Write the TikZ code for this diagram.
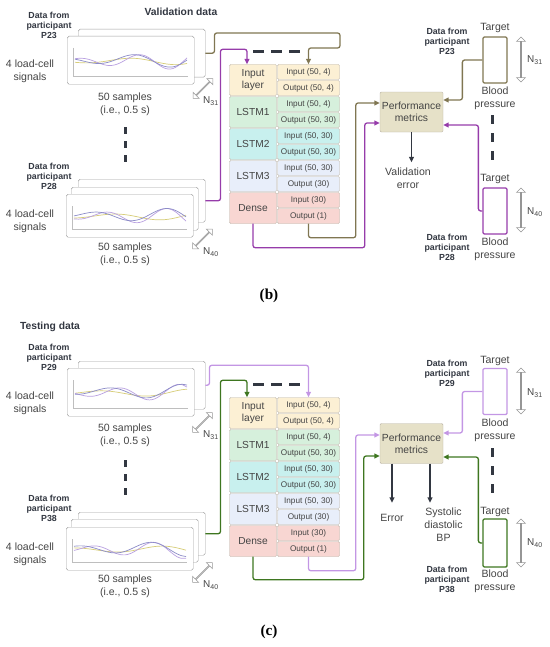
\documentclass[tikz,border=0pt]{standalone}
\usepackage{fontspec}
\setmainfont{Liberation Sans}
\newfontfamily\panelfont{Liberation Serif}
\usepackage{tikz}
\usetikzlibrary{shapes.arrows,arrows.meta,calc}

\definecolor{olivec}{RGB}{128,118,82}
\definecolor{purplec}{RGB}{150,60,170}
\definecolor{lavenderc}{RGB}{195,150,228}
\definecolor{greenc}{RGB}{62,118,32}
\definecolor{inkc}{RGB}{68,68,68}
\definecolor{darkc}{RGB}{50,55,65}
\definecolor{edgec}{RGB}{185,178,165}
\definecolor{cardc}{RGB}{160,160,160}
\definecolor{twoc}{RGB}{150,150,150}
\definecolor{axisc}{RGB}{190,190,190}
\definecolor{inputc}{RGB}{252,240,212}
\definecolor{lstmac}{RGB}{214,240,220}
\definecolor{lstmbc}{RGB}{200,240,238}
\definecolor{lstmcc}{RGB}{232,238,250}
\definecolor{densec}{RGB}{248,214,210}
\definecolor{perfc}{RGB}{230,225,200}
\definecolor{sigyc}{RGB}{215,205,120}
\definecolor{sigpc}{RGB}{185,160,225}
\definecolor{sigbc}{RGB}{140,140,200}

\def\pxu{0.3mm}

\tikzset{
  txt/.style={text=inkc, font=\fontsize{9}{11}\selectfont, align=center, inner sep=0pt},
  who/.style={text=darkc, font=\bfseries\fontsize{7.5}{8.6}\selectfont, align=center, inner sep=0pt},
  headtext/.style={text=darkc, font=\bfseries\fontsize{8.8}{10}\selectfont, inner sep=0pt},
  card/.style={draw=cardc, fill=white, rounded corners=1.5pt, minimum width=127*\pxu, minimum height=48*\pxu, anchor=north west, inner sep=0pt},
  layerbox/.style={draw=edgec, rounded corners=1pt, minimum width=47*\pxu, minimum height=31*\pxu, inner sep=0pt, align=center, text=inkc, font=\fontsize{8.7}{10.5}\selectfont},
  subcell/.style={layerbox, minimum width=62*\pxu, minimum height=15*\pxu, font=\fontsize{7}{8}\selectfont},
  metricbox/.style={draw=edgec, fill=perfc, rounded corners=1pt, minimum width=63*\pxu, minimum height=40*\pxu, align=center, text=inkc, font=\fontsize{8.8}{10.5}\selectfont, inner sep=0pt},
  targetbox/.style={line width=1.1pt, rounded corners=1pt, minimum width=24*\pxu, minimum height=46*\pxu, inner sep=0pt},
  flow/.style={line width=1.1pt, rounded corners=2pt, -{Triangle[length=4.5pt,width=4pt]}},
  outarrow/.style={darkc, line width=1.1pt, -{Triangle[length=4.5pt,width=4pt]}},
  gapline/.style={darkc, line width=0.9mm, dash pattern=on 2mm off 2.2mm},
  bothways/.style={double arrow, draw=twoc, fill=white, line width=0.5pt, minimum height=#1, minimum width=2.6mm, double arrow head extend=0.7mm, inner sep=0pt},
  nlabel/.style={text=inkc, font=\fontsize{8.5}{10}\selectfont, inner sep=0pt},
  panel/.style={font=\panelfont\bfseries\fontsize{13}{15}\selectfont, inner sep=0pt}
}

% network stack: #1 name prefix, #2 top
\newcommand{\lstmstack}[2]{%
  \foreach \nm/\lbl/\clr/\inp/\outp [count=\k from 0] in {%
    in/{Input\\layer}/inputc/{Input (50, 4)}/{Output (50, 4)},%
    l1/LSTM1/lstmac/{Input (50, 4)}/{Output (50, 30)},%
    l2/LSTM2/lstmbc/{Input (50, 30)}/{Output (50, 30)},%
    l3/LSTM3/lstmcc/{Input (50, 30)}/{Output (30)},%
    dense/Dense/densec/{Input (30)}/{Output (1)}}{%
    \node[layerbox, fill=\clr] (#1\nm) at (253,#2+16+32*\k) {\lbl};
    \node[subcell, fill=\clr] (#1\nm-i) at (308.5,#2+8+32*\k) {\inp};
    \node[subcell, fill=\clr] (#1\nm-o) at (308.5,#2+24+32*\k) {\outp};
  }}

% small chart inside a card: corner x, corner y, height, phase a, phase b
\newcommand{\sigplot}[5]{%
  \begin{scope}[shift={(#1,#2)}]
    \draw[axisc, line width=0.3pt] (6,12) -- (6,#3-8) -- (121,#3-8);
    \draw[sigyc, line width=0.6pt] plot[smooth, domain=8:120, samples=25] (\x,{#3/2+1+(1.5+0.02*\x)*sin(4*\x+#4)});
    \draw[sigpc, line width=0.6pt] plot[smooth, domain=8:120, samples=25] (\x,{#3/2+1+(2+0.06*\x)*sin(6*\x+#5)});
    \draw[sigbc, line width=0.6pt] plot[smooth, domain=8:120, samples=25] (\x,{#3/2+(2+0.05*\x)*sin(5*\x+#5+100)});
  \end{scope}}

\begin{document}
\begin{tikzpicture}[x=\pxu, y=-\pxu]
    \useasboundingbox (0,0) rectangle (550,647);

    % (b) validation
    \node[headtext] (bhead) at (181,12) {Validation data};
    \node[who] (bwho23) at (49,25) {Data from\\participant\\P23};
    \node[card] (b23back) at (78,29) {};
    \node[card] (b23) at (67,36) {};
    \sigplot{67}{36}{48}{20}{200}
    \node[txt] (bsig23) at (30,71) {4 load-cell\\signals};
    \node[txt] (bsam23) at (125,104) {50 samples\\(i.e., 0.5 s)};
    \node[bothways=28*\pxu, rotate=45] (bn31) at (203,88.5) {};
    \node[nlabel] (bn31l) at (211,101) {N\textsubscript{31}};
    \draw[gapline] (125,127) -- (125,163);

    \node[who] (bwho28) at (49,176) {Data from\\participant\\P28};
    \node[card, minimum height=43*\pxu] (b28back) at (78,179) {};
    \node[card, minimum height=43*\pxu] (b28mid) at (71,187) {};
    \node[card, minimum height=43*\pxu] (b28) at (66,194) {};
    \sigplot{66}{194}{43}{80}{30}
    \node[txt] (bsig28) at (30,221) {4 load-cell\\signals};
    \node[txt] (bsam28) at (125,254) {50 samples\\(i.e., 0.5 s)};
    \node[bothways=28*\pxu, rotate=45] (bn40) at (202.5,239) {};
    \node[nlabel] (bn40l) at (211,252) {N\textsubscript{40}};

    \lstmstack{b}{64}
    \draw[gapline, dash pattern=on 3.3mm off 2.1mm] (253,52) -- (300,52);

    \node[metricbox] (bperf) at (411.5,112) {Performance\\metrics};
    \node[txt] (berr) at (408,178) {Validation\\error};
    \draw[outarrow] (bperf.south) -- ++(0,30);

    \node[who] (bwho23r) at (447,41) {Data from\\participant\\P23};
    \node[targetbox, draw=olivec] (bt23) at (495,60) {};
    \node[txt] (bt23l) at (495,28) {Target};
    \node[txt] (bbp23) at (495,98) {Blood\\pressure};
    \node[bothways=45*\pxu, rotate=90] (bn31r) at (521,59.5) {};
    \node[nlabel] (bn31rl) at (535,60) {N\textsubscript{31}};
    \draw[gapline, dash pattern=on 2.6mm off 2.8mm] (492,115) -- (492,160);
    \node[who] (bwho28r) at (447,247) {Data from\\participant\\P28};
    \node[targetbox, draw=purplec] (bt28) at (495,211) {};
    \node[txt] (bt28l) at (495,179) {Target};
    \node[txt] (bbp28) at (495,249) {Blood\\pressure};
    \node[bothways=44*\pxu, rotate=90] (bn40r) at (521,210) {};
    \node[nlabel] (bn40rl) at (535,212) {N\textsubscript{40}};

    \draw[flow, olivec] (b23back.east) -- ++(9,0) |- (340,33) -- (340,48) -| (bin-i.north);
    \draw[flow, purplec] (b28back.east) -- ++(15,0) |- ($(bin.north)+(-6,-15)$) -- ($(bin.north)+(-6,0)$);
    \draw[flow, olivec] (bdense-o.south) -- ++(0,14) -| ($(bperf.west)+(-24,-9)$) -- ($(bperf.west)+(0,-9)$);
    \draw[flow, purplec] (bdense.south) -- ++(0,24) -| ($(bperf.west)+(-15,11)$) -- ($(bperf.west)+(0,11)$);
    \draw[flow, olivec] (bt23.west) -- ++(-20,0) |- ($(bperf.east)+(0,-12)$);
    \draw[flow, purplec] (bt28.west) -- ++(-4,0) |- ($(bperf.east)+(0,13)$);

    \node[panel] (blabel) at (269,296) {(b)};

    % (c) testing
    \node[headtext] (chead) at (50,327) {Testing data};
    \node[who] (cwho29) at (49,357) {Data from\\participant\\P29};
    \node[card] (c29back) at (78,361) {};
    \node[card] (c29) at (67,368) {};
    \sigplot{67}{368}{48}{140}{320}
    \node[txt] (csig29) at (30,403.5) {4 load-cell\\signals};
    \node[txt] (csam29) at (125,435.5) {50 samples\\(i.e., 0.5 s)};
    \node[bothways=28*\pxu, rotate=45] (cn31) at (202.5,422.5) {};
    \node[nlabel] (cn31l) at (211,435) {N\textsubscript{31}};
    \draw[gapline] (125,460) -- (125,495);

    \node[who] (cwho38) at (49,508) {Data from\\participant\\P38};
    \node[card, minimum height=43*\pxu] (c38back) at (78,512) {};
    \node[card, minimum height=43*\pxu] (c38mid) at (71,519) {};
    \node[card, minimum height=43*\pxu] (c38) at (66,527) {};
    \sigplot{66}{527}{43}{250}{110}
    \node[txt] (csig38) at (30,554.5) {4 load-cell\\signals};
    \node[txt] (csam38) at (125,586.5) {50 samples\\(i.e., 0.5 s)};
    \node[bothways=28*\pxu, rotate=45] (cn40) at (202.5,572.5) {};
    \node[nlabel] (cn40l) at (211,585) {N\textsubscript{40}};

    \lstmstack{c}{397}
    \draw[gapline, dash pattern=on 3.3mm off 2.1mm] (253,384) -- (300,384);

    \node[metricbox] (cperf) at (411.5,443.5) {Performance\\metrics};
    \node[txt] (cerr) at (392,518) {Error};
    \node[txt] (cbp) at (443.5,524.5) {Systolic\\diastolic\\BP};
    \draw[outarrow] ($(cperf.south)+(-19.5,0)$) -- ++(0,39);
    \draw[outarrow] ($(cperf.south)+(18.5,0)$) -- ++(0,39);

    \node[who] (cwho29r) at (447,373) {Data from\\participant\\P29};
    \node[targetbox, draw=lavenderc] (ct29) at (495,391.5) {};
    \node[txt] (ct29l) at (495,361) {Target};
    \node[txt] (cbp29) at (495,430.5) {Blood\\pressure};
    \node[bothways=46*\pxu, rotate=90] (cn31r) at (521,391) {};
    \node[nlabel] (cn31rl) at (535,393) {N\textsubscript{31}};
    \draw[gapline, dash pattern=on 2.6mm off 2.8mm] (492,448) -- (492,493);
    \node[who] (cwho38r) at (447,579) {Data from\\participant\\P38};
    \node[targetbox, draw=greenc, minimum height=48*\pxu] (ct38) at (495,543) {};
    \node[txt] (ct38l) at (495,512) {Target};
    \node[txt] (cbp38) at (495,581) {Blood\\pressure};
    \node[bothways=48*\pxu, rotate=90] (cn40r) at (521,543) {};
    \node[nlabel] (cn40rl) at (535,543) {N\textsubscript{40}};

    \draw[flow, lavenderc] (c29back.east) -- ++(4,0) |- ($(cin-i.north)+(0,-32)$) -- (cin-i.north);
    \draw[flow, greenc] (c38back.east) -- ++(15,0) |- ($(cin.north)+(-6,-17)$) -- ($(cin.north)+(-6,0)$);
    \draw[flow, lavenderc] (cdense-o.south) -- ++(0,14) -| ($(cperf.west)+(-24,-8.5)$) -- ($(cperf.west)+(0,-8.5)$);
    \draw[flow, greenc] (cdense.south) -- ++(0,23) -| ($(cperf.west)+(-16,12.5)$) -- ($(cperf.west)+(0,12.5)$);
    \draw[flow, lavenderc] (ct29.west) -- ++(-20,0) |- ($(cperf.east)+(0,-10.5)$);
    \draw[flow, greenc] (ct38.west) -- ++(-4,0) |- ($(cperf.east)+(0,13.5)$);

    \node[panel] (clabel) at (269,632) {(c)};
\end{tikzpicture}
\end{document}
